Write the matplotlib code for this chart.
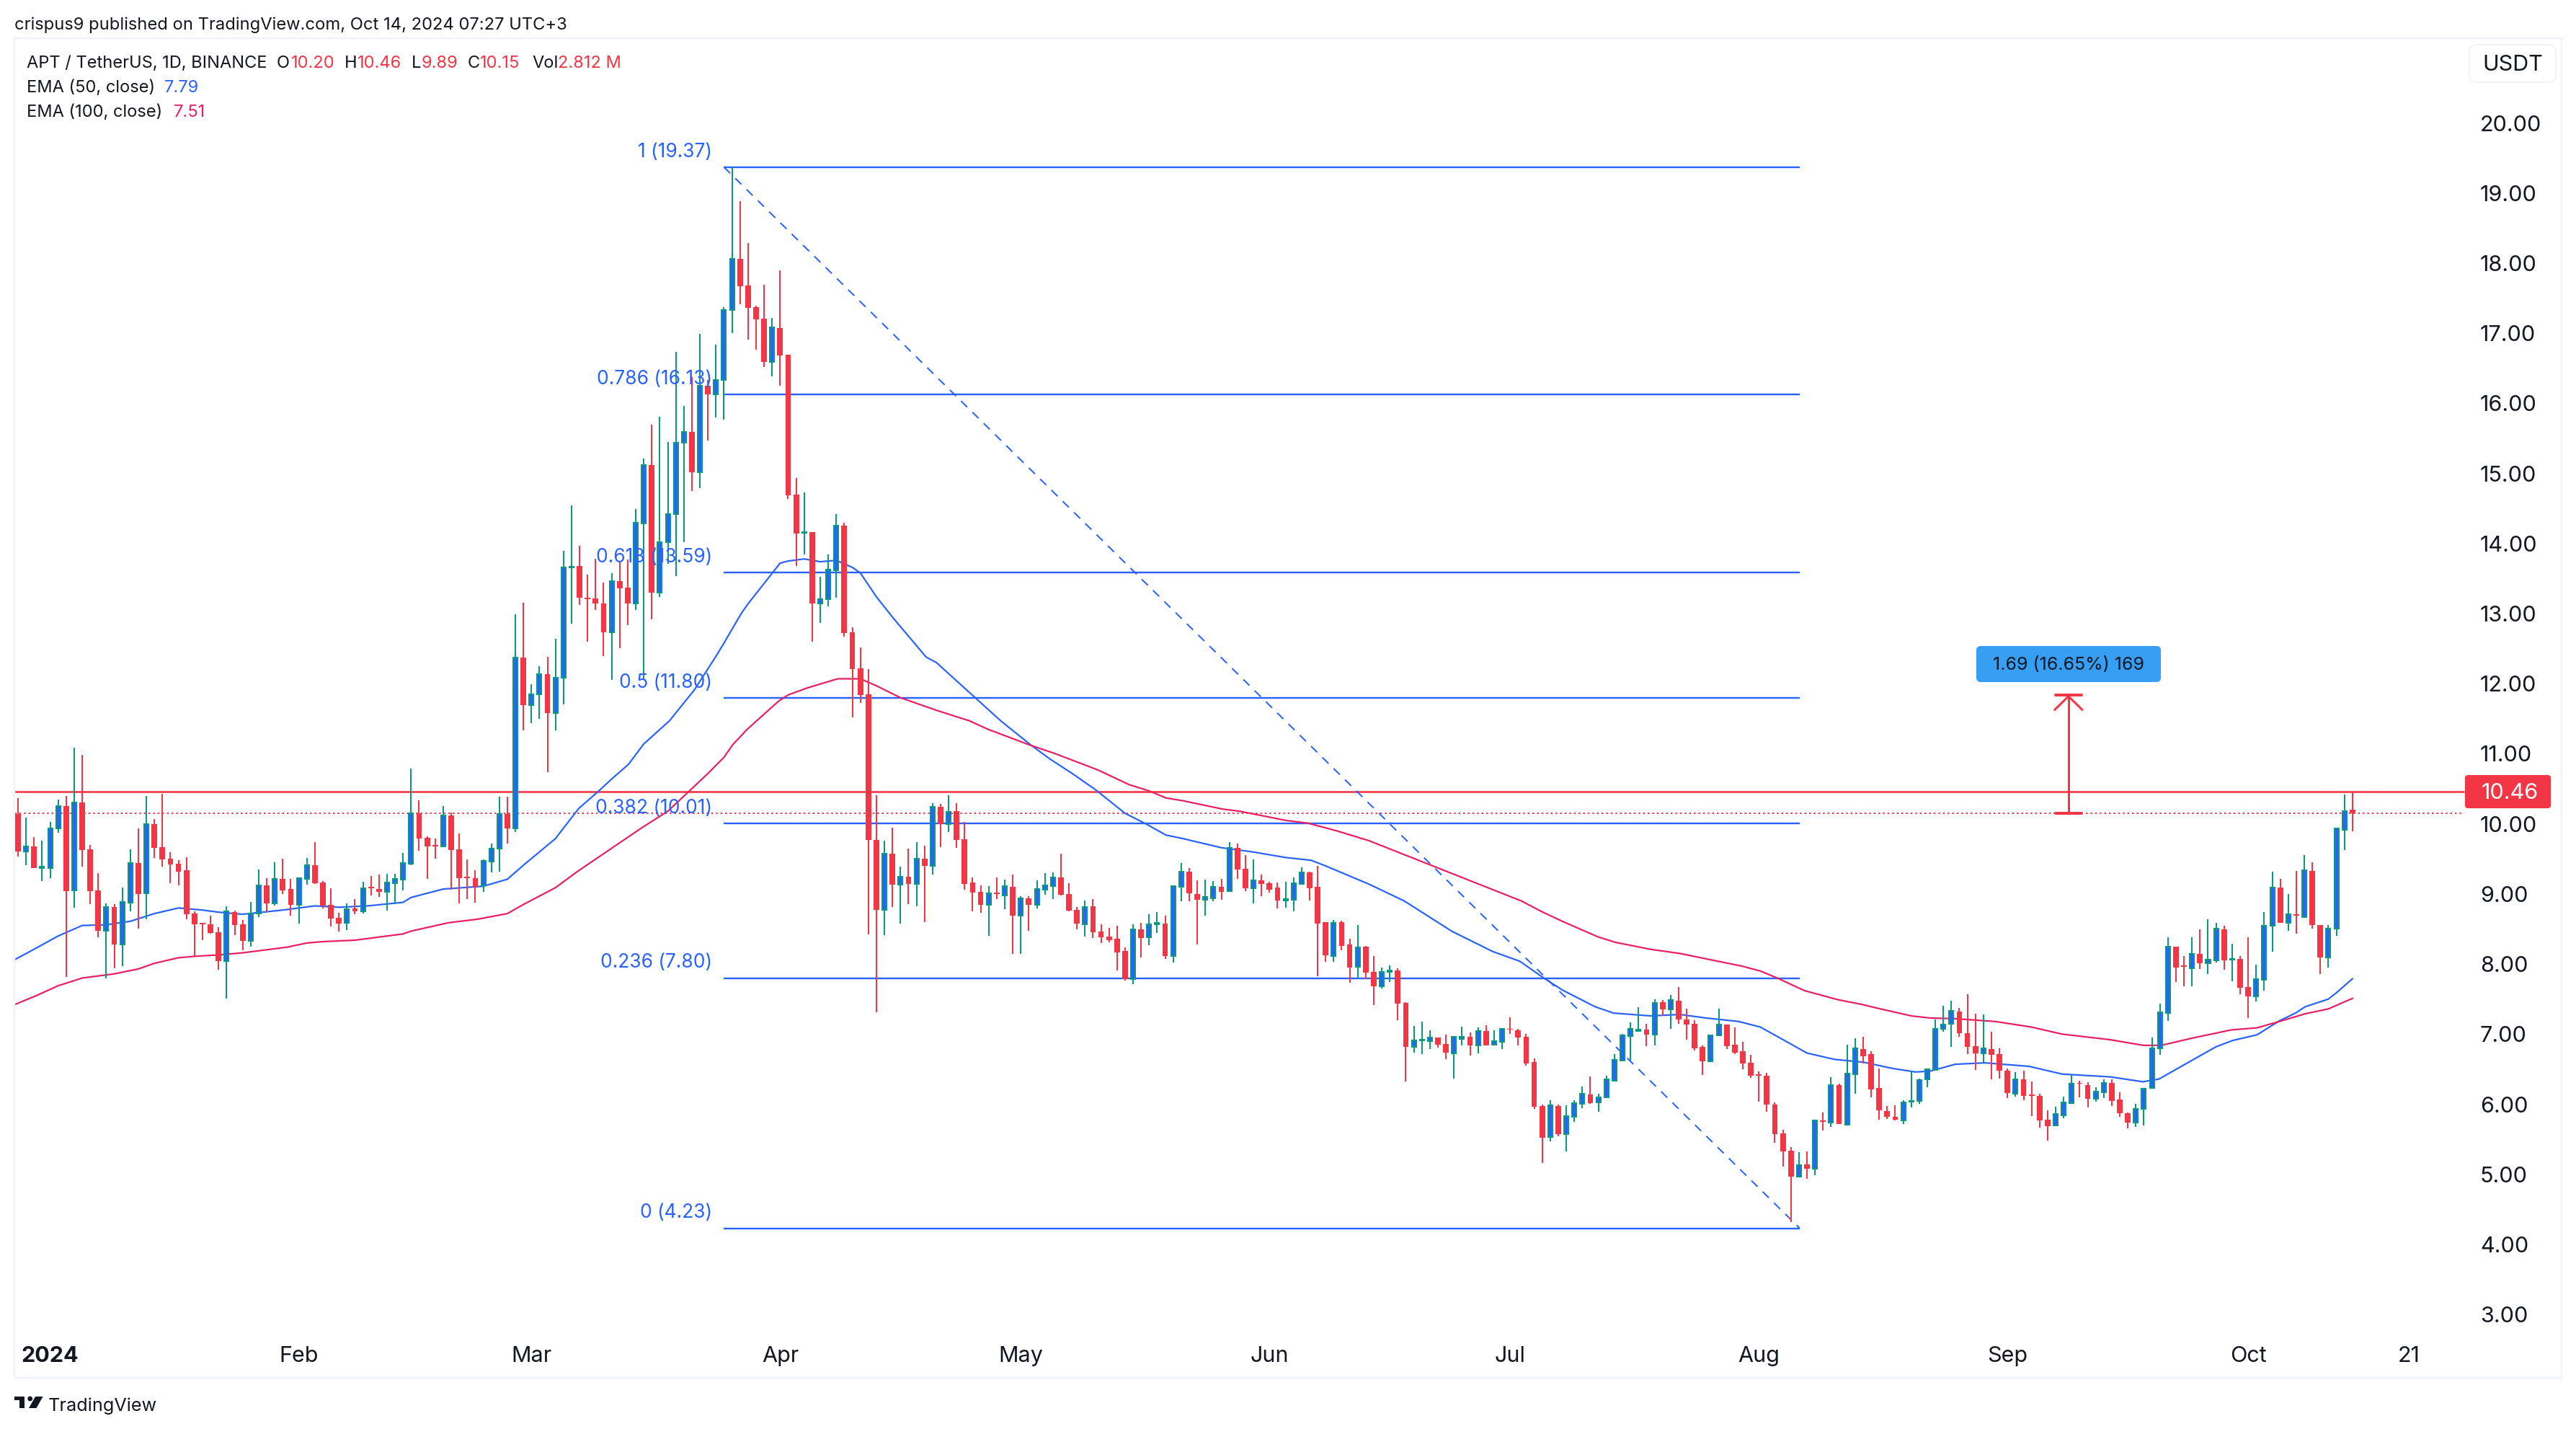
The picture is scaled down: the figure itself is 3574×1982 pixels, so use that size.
import numpy as np
import pandas as pd
import matplotlib
matplotlib.use("Agg")
import matplotlib.pyplot as plt
from matplotlib.patches import FancyBboxPatch, Polygon, Circle
from matplotlib.transforms import Affine2D

plt.rcParams["font.family"] = ["Inter", "DejaVu Sans"]

# daily candles, APT/USDT, 28 Dec 2023 - 14 Oct 2024
opens = [10.14, 9.61, 9.68, 9.37, 9.37, 9.93, 10.25, 9.05, 10.31, 9.64,
         9.05, 8.47, 8.81, 8.28, 8.88, 9.44, 9.01, 10.00, 9.67, 9.50,
         9.43, 9.34, 8.72, 8.59, 8.57, 8.45, 8.04, 8.74, 8.57, 8.33,
         8.72, 9.12, 8.86, 9.21, 9.07, 8.84, 9.22, 9.41, 9.16, 8.84,
         8.66, 8.59, 8.79, 8.75, 9.10, 9.07, 9.03, 9.15, 9.20, 9.43,
         10.15, 9.80, 9.70, 9.68, 10.12, 9.64, 9.25, 9.23, 9.12, 9.46,
         9.65, 10.14, 9.93, 12.37, 11.69, 11.85, 12.14, 11.58, 12.08, 13.66,
         13.68, 13.23, 13.22, 13.14, 12.73, 13.46, 13.37, 13.14, 14.29, 15.12,
         13.30, 14.02, 14.42, 15.44, 15.59, 15.02, 16.25, 16.13, 16.33, 17.33,
         18.06, 17.68, 17.37, 17.21, 16.59, 17.07, 16.69, 14.70, 14.15, 14.16,
         13.14, 13.21, 13.62, 14.26, 12.73, 12.22, 11.85, 9.77, 8.77, 9.58,
         9.13, 9.25, 9.14, 9.50, 9.40, 10.24, 10.00, 10.18, 9.78, 9.16,
         9.03, 8.84, 9.02, 8.98, 9.10, 8.69, 8.94, 8.84, 9.06, 9.11,
         9.24, 9.00, 8.77, 8.57, 8.82, 8.46, 8.39, 8.36, 8.19, 7.79,
         8.49, 8.38, 8.57, 8.58, 8.11, 9.10, 9.32, 9.00, 8.92, 8.94,
         9.10, 9.04, 9.66, 9.36, 9.08, 9.19, 9.15, 9.09, 8.91, 8.92,
         9.14, 9.31, 9.10, 8.60, 8.11, 8.60, 8.28, 7.96, 8.25, 7.89,
         7.68, 7.89, 7.91, 7.45, 6.82, 6.91, 6.90, 6.95, 6.86, 6.73,
         6.93, 6.96, 6.84, 7.04, 6.85, 6.89, 7.08, 7.05, 6.96, 6.60,
         5.97, 5.53, 5.97, 5.57, 5.82, 6.01, 6.14, 6.03, 6.10, 6.33,
         6.62, 6.97, 7.04, 7.06, 6.99, 7.46, 7.35, 7.48, 7.21, 7.15,
         6.82, 6.61, 6.98, 7.14, 6.85, 6.76, 6.59, 6.43, 6.41, 6.00,
         5.58, 5.34, 4.97, 5.14, 5.08, 5.77, 5.74, 6.27, 5.71, 6.43,
         6.79, 6.71, 6.23, 5.90, 5.82, 5.77, 6.04, 6.05, 6.35, 6.49,
         7.08, 7.15, 7.32, 7.01, 6.83, 6.73, 6.79, 6.71, 6.48, 6.15,
         6.36, 6.14, 6.12, 5.78, 5.70, 5.84, 6.02, 6.30, 6.27, 6.08,
         6.17, 6.30, 6.07, 5.87, 5.74, 5.93, 6.23, 6.80, 7.30, 8.25,
         7.98, 7.94, 8.15, 8.01, 8.05, 8.49, 8.06, 8.07, 7.67, 7.54,
         7.77, 8.55, 9.09, 8.59, 8.71, 8.67, 9.33, 8.56, 8.09, 8.50,
         9.91, 10.20]
highs = [10.37, 10.09, 9.81, 9.76, 10.03, 10.35, 10.40, 11.09, 10.98, 9.70,
         9.30, 8.86, 8.85, 9.09, 9.64, 9.94, 10.40, 10.07, 10.43, 9.60,
         9.48, 9.52, 8.75, 8.59, 8.69, 8.53, 8.82, 8.76, 8.63, 8.89,
         9.35, 9.23, 9.45, 9.50, 9.21, 9.24, 9.51, 9.74, 9.18, 9.08,
         8.73, 8.87, 8.93, 9.17, 9.26, 9.28, 9.29, 9.29, 9.59, 10.79,
         10.34, 9.82, 9.79, 10.25, 10.16, 9.86, 9.49, 9.34, 9.49, 9.72,
         10.39, 10.39, 12.99, 13.15, 11.99, 12.25, 12.38, 12.64, 13.90, 14.54,
         13.97, 13.56, 13.78, 13.44, 13.58, 13.73, 13.77, 14.49, 15.21, 15.70,
         15.81, 15.45, 16.74, 15.96, 16.38, 16.99, 16.33, 16.84, 17.37, 19.37,
         18.88, 18.29, 17.39, 17.69, 17.22, 17.90, 16.69, 14.93, 14.73, 14.16,
         13.53, 13.84, 14.42, 14.30, 12.81, 12.52, 12.21, 10.41, 9.76, 9.95,
         9.39, 9.65, 9.74, 9.69, 10.29, 10.28, 10.41, 10.30, 10.03, 9.24,
         9.12, 9.11, 9.24, 9.20, 9.28, 8.97, 8.97, 9.19, 9.30, 9.31,
         9.58, 9.15, 8.81, 8.91, 8.93, 8.57, 8.52, 8.55, 8.24, 8.57,
         8.59, 8.71, 8.74, 8.69, 9.11, 9.44, 9.37, 9.19, 9.20, 9.18,
         9.22, 9.74, 9.72, 9.55, 9.49, 9.28, 9.17, 9.16, 9.17, 9.24,
         9.38, 9.32, 9.40, 8.60, 8.63, 8.62, 8.36, 8.56, 8.26, 8.11,
         7.95, 7.98, 7.94, 7.46, 7.12, 7.18, 7.05, 6.95, 6.99, 6.96,
         7.11, 7.02, 7.10, 7.13, 7.05, 7.09, 7.24, 7.08, 7.00, 6.65,
         5.99, 6.06, 6.00, 5.98, 6.06, 6.25, 6.40, 6.15, 6.41, 6.71,
         7.00, 7.17, 7.38, 7.15, 7.50, 7.49, 7.56, 7.67, 7.36, 7.20,
         6.84, 6.99, 7.36, 7.14, 7.10, 6.89, 6.70, 6.47, 6.45, 6.03,
         5.63, 5.39, 5.32, 5.33, 5.77, 5.88, 6.39, 6.29, 6.85, 6.94,
         6.96, 6.76, 6.51, 5.97, 5.98, 6.06, 6.47, 6.37, 6.50, 7.21,
         7.40, 7.48, 7.37, 7.57, 7.29, 7.28, 7.03, 6.80, 6.51, 6.46,
         6.48, 6.32, 6.15, 5.91, 5.96, 6.11, 6.42, 6.33, 6.31, 6.24,
         6.35, 6.36, 6.17, 5.88, 6.01, 6.23, 6.95, 7.44, 8.38, 8.25,
         8.11, 8.38, 8.49, 8.64, 8.59, 8.55, 8.29, 8.11, 8.38, 7.99,
         8.74, 9.32, 9.21, 9.00, 9.33, 9.55, 9.45, 8.56, 8.56, 9.95,
         10.42, 10.46]
lows = [9.53, 9.41, 9.37, 9.18, 9.23, 9.87, 7.82, 8.80, 9.39, 8.85,
        8.38, 7.80, 7.94, 7.97, 8.75, 8.51, 8.64, 9.51, 9.39, 9.15,
        9.12, 8.64, 8.11, 8.34, 8.43, 7.92, 7.51, 8.41, 8.20, 8.25,
        8.67, 8.74, 8.83, 9.00, 8.69, 8.58, 9.13, 9.14, 8.79, 8.54,
        8.46, 8.48, 8.71, 8.72, 8.98, 8.96, 8.76, 8.86, 9.05, 9.41,
        9.62, 9.21, 9.50, 9.68, 9.06, 8.86, 8.93, 8.88, 9.03, 9.31,
        9.32, 9.72, 9.88, 11.33, 11.44, 11.50, 10.74, 11.33, 11.70, 12.86,
        13.12, 12.60, 13.05, 12.39, 12.05, 12.51, 12.84, 13.05, 12.07, 12.92,
        13.24, 13.71, 13.54, 14.02, 14.75, 14.79, 15.47, 15.80, 15.77, 17.00,
        17.41, 16.91, 16.77, 16.52, 16.39, 16.25, 14.64, 13.68, 13.84, 12.60,
        12.87, 13.10, 13.23, 12.67, 11.52, 11.73, 8.42, 7.31, 8.41, 8.81,
        8.58, 8.85, 8.82, 8.60, 9.28, 9.67, 9.88, 9.66, 9.06, 8.75,
        8.73, 8.40, 8.93, 8.78, 8.14, 8.15, 8.47, 8.79, 8.99, 8.93,
        8.98, 8.75, 8.49, 8.39, 8.37, 8.30, 8.31, 7.91, 7.76, 7.71,
        8.09, 8.27, 8.44, 8.07, 8.02, 8.90, 8.90, 8.28, 8.69, 8.90,
        8.92, 9.03, 9.22, 9.04, 8.86, 8.97, 9.02, 8.79, 8.80, 8.75,
        9.14, 8.91, 7.83, 8.03, 8.03, 8.20, 7.73, 7.80, 7.78, 7.41,
        7.65, 7.74, 7.20, 6.32, 6.74, 6.71, 6.79, 6.81, 6.64, 6.37,
        6.84, 6.69, 6.73, 6.84, 6.84, 6.79, 7.00, 6.84, 6.55, 5.93,
        5.16, 5.47, 5.54, 5.33, 5.75, 5.94, 6.01, 5.89, 6.10, 6.33,
        6.61, 6.62, 7.04, 6.83, 6.84, 7.26, 7.07, 7.15, 6.92, 6.77,
        6.42, 6.60, 6.97, 6.79, 6.72, 6.50, 6.38, 6.04, 5.89, 5.45,
        5.11, 4.32, 4.97, 4.94, 4.99, 5.62, 5.68, 5.72, 5.71, 6.15,
        6.58, 6.10, 5.78, 5.79, 5.77, 5.72, 5.95, 6.01, 6.24, 6.49,
        7.03, 6.82, 6.96, 6.71, 6.49, 6.59, 6.36, 6.37, 6.09, 6.11,
        6.06, 5.83, 5.67, 5.48, 5.70, 5.80, 6.02, 6.10, 5.95, 6.04,
        6.09, 5.97, 5.82, 5.66, 5.68, 5.70, 6.23, 6.70, 7.19, 7.74,
        7.68, 7.68, 7.93, 7.86, 8.02, 7.92, 7.75, 7.57, 7.23, 7.47,
        7.62, 8.18, 8.59, 8.47, 8.43, 8.67, 8.50, 7.86, 7.95, 8.40,
        9.63, 9.89]
closes = [9.61, 9.68, 9.37, 9.39, 9.93, 10.25, 9.04, 10.31, 9.63, 9.04,
          8.47, 8.81, 8.28, 8.89, 9.44, 9.00, 10.00, 9.66, 9.49, 9.42,
          9.32, 8.71, 8.57, 8.57, 8.44, 8.04, 8.75, 8.56, 8.33, 8.72,
          9.12, 8.86, 9.22, 9.05, 8.84, 9.23, 9.41, 9.15, 8.83, 8.65,
          8.58, 8.78, 8.75, 9.08, 9.08, 9.03, 9.16, 9.21, 9.44, 10.15,
          9.79, 9.68, 9.68, 10.12, 9.63, 9.23, 9.23, 9.10, 9.47, 9.65,
          10.14, 9.93, 12.37, 11.69, 11.85, 12.14, 11.58, 12.09, 13.66, 13.67,
          13.23, 13.21, 13.14, 12.73, 13.46, 13.36, 13.14, 14.30, 15.12, 13.30,
          14.02, 14.42, 15.44, 15.59, 15.02, 16.25, 16.13, 16.33, 17.33, 18.06,
          17.67, 17.36, 17.20, 16.59, 17.08, 16.68, 14.69, 14.14, 14.16, 13.14,
          13.21, 13.63, 14.26, 12.72, 12.21, 11.84, 9.77, 8.77, 9.58, 9.13,
          9.25, 9.14, 9.50, 9.40, 10.24, 10.00, 10.17, 9.77, 9.14, 9.02,
          8.84, 9.01, 9.00, 9.11, 8.69, 8.94, 8.84, 9.07, 9.12, 9.24,
          8.99, 8.76, 8.58, 8.81, 8.45, 8.38, 8.34, 8.17, 7.79, 8.49,
          8.37, 8.57, 8.59, 8.11, 9.11, 9.32, 9.01, 8.92, 8.96, 9.10,
          9.03, 9.66, 9.35, 9.08, 9.19, 9.14, 9.06, 8.91, 8.93, 9.15,
          9.31, 9.08, 8.58, 8.12, 8.59, 8.26, 7.95, 8.24, 7.88, 7.68,
          7.89, 7.91, 7.44, 6.82, 6.91, 6.92, 6.95, 6.85, 6.74, 6.96,
          6.96, 6.84, 7.04, 6.84, 6.90, 7.08, 7.06, 6.95, 6.58, 5.96,
          5.52, 5.98, 5.57, 5.83, 6.02, 6.15, 6.02, 6.10, 6.35, 6.63,
          6.98, 7.07, 7.06, 6.99, 7.45, 7.35, 7.49, 7.21, 7.14, 6.80,
          6.61, 6.98, 7.14, 6.83, 6.74, 6.58, 6.41, 6.41, 6.00, 5.57,
          5.33, 4.97, 5.13, 5.08, 5.77, 5.75, 6.27, 5.72, 6.44, 6.80,
          6.68, 6.21, 5.91, 5.82, 5.78, 6.03, 6.05, 6.34, 6.50, 7.08,
          7.14, 7.33, 7.01, 6.82, 6.73, 6.80, 6.70, 6.48, 6.16, 6.35,
          6.12, 6.12, 5.77, 5.69, 5.86, 6.03, 6.29, 6.29, 6.08, 6.18,
          6.30, 6.05, 5.87, 5.74, 5.93, 6.22, 6.80, 7.31, 8.25, 7.95,
          7.96, 8.15, 8.01, 8.06, 8.50, 8.05, 8.07, 7.66, 7.54, 7.79,
          8.55, 9.09, 8.59, 8.71, 8.69, 9.34, 8.56, 8.09, 8.51, 9.93,
          10.18, 10.15]

# EMAs at these candle numbers
ema50_at = [-0.45, 2.3, 5, 8, 11, 14, 17, 20, 23, 25, 28, 33, 37, 40, 43.6, 48, 49, 53, 58, 61,
            63, 67, 68, 69.9, 72.3, 74.1, 76.1, 78, 81.2, 84.3, 87, 88, 90.2, 91, 95, 96, 98, 100, 102, 104,
            105, 107, 109, 113.2, 114.5, 122.5, 126.2, 128.7, 131.4, 134.4, 138, 140.6, 143.1, 145.2, 150, 153.9, 158, 161.2, 163, 168.4,
            172.8, 178.7, 183.8, 187.2, 190.2, 192.5, 196.6, 198.9, 203.5, 207.2, 210.4, 214.5, 217.2, 220.5, 223, 226.4, 230, 233.7, 236.5, 238.3,
            241.5, 245.2, 250.7, 254.8, 260.8, 264.9, 266.9, 270.9, 274, 276.1, 279.1, 281.9, 283.9, 285.1, 288, 289, 291]
ema50 = [8.06, 8.23, 8.40, 8.55, 8.56, 8.61, 8.72, 8.80, 8.77, 8.74, 8.71, 8.77, 8.83, 8.81, 8.83, 8.88, 8.95, 9.07, 9.11, 9.21,
         9.41, 9.79, 9.94, 10.22, 10.46, 10.65, 10.85, 11.14, 11.47, 11.91, 12.39, 12.58, 13.01, 13.14, 13.72, 13.75, 13.78, 13.74, 13.76, 13.66,
         13.58, 13.24, 12.95, 12.38, 12.30, 11.47, 11.13, 10.92, 10.72, 10.48, 10.15, 10.00, 9.84, 9.79, 9.66, 9.60, 9.52, 9.48, 9.40, 9.14,
         8.90, 8.47, 8.18, 8.04, 7.80, 7.63, 7.39, 7.30, 7.26, 7.28, 7.23, 7.18, 7.10, 6.89, 6.73, 6.64, 6.60, 6.51, 6.46, 6.47,
         6.57, 6.59, 6.54, 6.43, 6.39, 6.32, 6.36, 6.62, 6.82, 6.91, 6.99, 7.19, 7.30, 7.39, 7.50, 7.59, 7.79]
ema100_at = [-0.45, 2.3, 5, 8, 12, 15, 17, 20, 22, 25, 28, 33.5, 36, 38, 42, 48, 49, 53.7, 57.3, 61,
             63, 67, 69.6, 77.7, 81, 83.6, 86.1, 88, 89.1, 90.9, 94.8, 96, 98.4, 101.3, 102.2, 105, 107, 110, 114.5, 118.6,
             120.9, 126, 129.1, 134.6, 138.5, 141, 143.1, 145.2, 150.2, 152.3, 158, 160.8, 164.4, 168.4, 187.4, 189.9, 192.5, 196.9, 199.1, 203.5,
             207.2, 210.6, 214.9, 217.2, 219.3, 222.7, 226.9, 230, 231.4, 236, 238.3, 241.5, 246.5, 251, 254.8, 260.8, 264.9, 267.2, 270.9, 275.9,
             279.1, 281.9, 285.1, 288, 291]
ema100 = [7.42, 7.55, 7.69, 7.80, 7.86, 7.93, 8.01, 8.09, 8.11, 8.13, 8.16, 8.24, 8.30, 8.32, 8.34, 8.43, 8.47, 8.59, 8.64, 8.72,
          8.85, 9.09, 9.31, 9.94, 10.18, 10.46, 10.73, 10.95, 11.13, 11.35, 11.75, 11.84, 11.94, 12.04, 12.07, 12.07, 11.97, 11.80, 11.62, 11.47,
          11.35, 11.13, 11.01, 10.77, 10.56, 10.47, 10.37, 10.33, 10.21, 10.18, 10.05, 10.01, 9.90, 9.76, 8.90, 8.75, 8.61, 8.39, 8.31, 8.21,
          8.15, 8.07, 7.97, 7.90, 7.80, 7.62, 7.49, 7.42, 7.38, 7.26, 7.23, 7.22, 7.18, 7.10, 7.00, 6.92, 6.84, 6.84, 6.94, 7.06,
          7.09, 7.18, 7.29, 7.36, 7.51]

fib_ratios = ["1", "0.786", "0.618", "0.5", "0.382", "0.236", "0"]
fib_prices = [19.37, 16.13, 13.59, 11.80, 10.01, 7.80, 4.23]

price_ticks = [3, 4, 5, 6, 7, 8, 9, 10, 11, 12, 13, 14, 15, 16, 17, 18, 19, 20]
time_labels = ["2024", "Feb", "Mar", "Apr", "May", "Jun", "Jul", "Aug", "Sep", "Oct", "21"]
time_dates = ["2024-01-01", "2024-02-01", "2024-03-01", "2024-04-01", "2024-05-01", "2024-06-01",
              "2024-07-01", "2024-08-01", "2024-09-01", "2024-10-01", "2024-10-21"]

high_line = 10.46
last_close = 10.15
target_price = 11.84

RED = "#F23645"
GREEN = "#089981"
BLUE = "#2962FF"
PINK = "#E91E63"
TEXT = "#131722"
BORDER = "#F0F3FA"

W, H = 3574, 1982
fig = plt.figure(figsize=(W / 100, H / 100), dpi=100, facecolor="white")
# pixel coords measured from the top left of the picture
pix = Affine2D().scale(1, -1).translate(0, H)


def lw(px):
    return px * 0.72


ax = fig.add_axes([20 / W, 1 - 1911 / H, 3534 / W, 1858 / H])
ax.set_xlim(-0.449, 317.07)
ax.set_ylim(2.096, 21.21)
for s in ax.spines.values():
    s.set_color(BORDER)
    s.set_linewidth(lw(2.5))

x = np.arange(len(opens))
o = np.array(opens)
h = np.array(highs)
l = np.array(lows)
c = np.array(closes)
up = c >= o

# level lines and diagonal sit behind the candles
line_end = 304.9
ax.hlines(high_line, -1, line_end, color=RED, lw=lw(2.6), zorder=1)
ax.hlines(last_close, -1, line_end, color=RED, lw=lw(2), linestyles=(0, (1.2, 2)), zorder=1)
ax.hlines(fib_prices, 88, 222.1, color=BLUE, lw=lw(2.4), zorder=1)
ax.plot([88, 222.1], [fib_prices[0], fib_prices[-1]], color=BLUE, lw=lw(2), ls=(0, (6, 5)), zorder=1)
ax.plot(ema50_at, ema50, color=BLUE, lw=lw(2.2), zorder=2)
ax.plot(ema100_at, ema100, color=PINK, lw=lw(2.2), zorder=2)

ax.vlines(x[up], l[up], h[up], color=GREEN, lw=lw(2), zorder=3)
ax.vlines(x[~up], l[~up], h[~up], color=RED, lw=lw(2), zorder=3)
ax.bar(x[up], (c - o)[up], bottom=o[up], width=0.54, color=BLUE, edgecolor=GREEN, linewidth=lw(2), zorder=4)
ax.bar(x[~up], (c - o)[~up], bottom=o[~up], width=0.7, color=RED, linewidth=0, zorder=4)

for ratio, price in zip(fib_ratios, fib_prices):
    ax.annotate(f"{ratio} ({price:.2f})", (87, price), xytext=(-4, 15.2), textcoords="offset points",
                color=BLUE, fontsize=19, ha="right", va="center", zorder=5)

# price range arrow
ax.plot([255.6, 255.6], [last_close, target_price], color=RED, lw=lw(3), zorder=5)
ax.plot([254, 257.2], [last_close, last_close], color=RED, lw=lw(4), solid_capstyle="round", zorder=5)
ax.plot([254, 257.2], [target_price, target_price], color=RED, lw=lw(4), solid_capstyle="round", zorder=5)
ax.plot([253.9, 255.6, 257.3], [target_price - 0.21, target_price - 0.02, target_price - 0.21],
        color=RED, lw=lw(3), zorder=5)

# axes labels live inside the frame, like the chart's own scales
ax.yaxis.tick_right()
ax.set_yticks(price_ticks)
ax.set_yticklabels([f"{p:.2f}" for p in price_ticks])
ax.tick_params(axis="y", length=0, pad=-81.4, labelsize=22, labelcolor=TEXT)
start = pd.Timestamp("2023-12-28")
ax.set_xticks([(pd.Timestamp(d) - start).days for d in time_dates])
ax.set_xticklabels(time_labels)
ax.tick_params(axis="x", length=0, pad=-32, labelsize=22, labelcolor=TEXT)
ax.get_xticklabels()[0].set_fontweight("bold")

# last price tag, range bubble, currency box
fig.add_artist(FancyBboxPatch((3423, 1078), 113, 40, boxstyle="round,pad=3,rounding_size=4",
                              fc=RED, ec="none", transform=pix))
fig.text(3482, 1100, f"{high_line:.2f}", color="white", fontsize=22, ha="center", va="center", transform=pix)
fig.add_artist(FancyBboxPatch((2746, 900), 248, 42, boxstyle="round,pad=4,rounding_size=6",
                              fc="#369EF3", ec="none", transform=pix))
fig.text(2870, 923, "1.69 (16.65%) 169", color=TEXT, fontsize=18, ha="center", va="center", transform=pix)
fig.add_artist(FancyBboxPatch((3432, 68), 108, 40, boxstyle="round,pad=6,rounding_size=10",
                              fc="white", ec=BORDER, lw=lw(2), transform=pix))
fig.text(3486, 90, "USDT", color=TEXT, fontsize=22, ha="center", va="center", transform=pix)

# header lines
fig.text(20, 41, "crispus9 published on TradingView.com, Oct 14, 2024 07:27 UTC+3", color=TEXT,
         fontsize=17.1, va="baseline", transform=pix)
row1 = [(37, "APT / TetherUS, 1D, BINANCE", TEXT), (384, "O", TEXT), (404, "10.20", RED), (478, "H", TEXT),
        (496, "10.46", RED), (571, "L", TEXT), (585, "9.89", RED), (649, "C", TEXT), (666, "10.15", RED),
        (738, "Vol", TEXT), (774, "2.812 M", RED)]
for tx, s, col in row1:
    fig.text(tx, 88, s, color=col, fontsize=17, va="center", transform=pix)
fig.text(37, 122, "EMA (50, close)", color=TEXT, fontsize=17, va="center", transform=pix)
fig.text(228, 122, "7.79", color=BLUE, fontsize=17, va="center", transform=pix)
fig.text(37, 156, "EMA (100, close)", color=TEXT, fontsize=17, va="center", transform=pix)
fig.text(241, 156, "7.51", color=PINK, fontsize=17, va="center", transform=pix)

# TradingView logo
fig.add_artist(Polygon([(20, 1937), (34, 1937), (34, 1953), (27, 1953), (27, 1942), (20, 1942)],
                       fc=TEXT, ec="none", transform=pix))
fig.add_artist(Circle((41.7, 1940), 3.4, fc=TEXT, ec="none", transform=pix))
fig.add_artist(Polygon([(49, 1937), (59.5, 1937), (50.5, 1953), (40, 1953)], fc=TEXT, ec="none", transform=pix))
fig.text(67, 1950, "TradingView", color=TEXT, fontsize=18.2, va="center", transform=pix)

fig.savefig("out.png", dpi=100)
